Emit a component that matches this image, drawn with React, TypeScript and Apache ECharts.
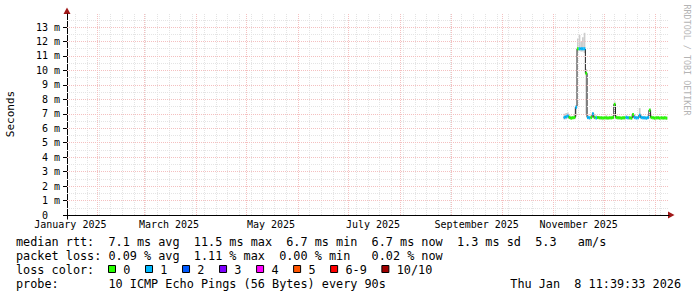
import React, { useEffect, useRef } from 'react';
import * as echarts from 'echarts';

const DAY = 86400000;
const X_START = Date.UTC(2025, 0, 14);
const X_END = Date.UTC(2026, 0, 9);
const DATA_START = Date.UTC(2025, 10, 7);

const MONTH_NAMES = ['January', 'February', 'March', 'April', 'May', 'June', 'July', 'August', 'September', 'October', 'November', 'December'];
const X_LABEL_DATES = ['2025-01-16', '2025-03-16', '2025-05-16', '2025-07-16', '2025-09-16', '2025-11-16'];
const MONTH_STARTS = ['2025-02-01', '2025-03-01', '2025-04-01', '2025-05-01', '2025-06-01', '2025-07-01', '2025-08-01', '2025-09-01', '2025-10-01', '2025-11-01', '2025-12-01', '2026-01-01'];
const FIRST_SUNDAY = '2025-01-19';
const Y_TICKS = [0, 1, 2, 3, 4, 5, 6, 7, 8, 9, 10, 11, 12, 13];

// median rtt per day (ms), from 2025-11-07
const medianMs = [
  6.75, 6.8, 6.85, 6.75, 6.7, 6.72, 6.75, 7.45, 11.5, 11.5,
  11.5, 11.5, 11.5, 9.8, 6.75, 6.72, 6.75, 7.0, 6.75, 6.72,
  6.75, 6.72, 6.72, 6.7, 6.72, 6.72, 6.7, 6.72, 6.72, 6.75,
  7.65, 6.75, 6.72, 6.72, 6.7, 6.72, 6.72, 6.75, 6.72, 6.72,
  6.7, 6.95, 6.75, 6.72, 6.72, 6.9, 6.75, 6.72, 6.72, 6.7,
  6.75, 7.25, 6.75, 6.72, 6.7, 6.72, 6.72, 6.7, 6.72, 6.7,
  6.72, 6.7,
];
// lost pings out of 10
const lossCount = [
  1, 1, 1, 0, 0, 0, 0, 1, 0, 1,
  1, 1, 1, 0, 1, 1, 0, 1, 0, 1,
  0, 0, 0, 0, 0, 0, 0, 0, 0, 0,
  0, 0, 0, 0, 0, 0, 0, 1, 1, 0,
  0, 0, 1, 1, 1, 1, 1, 1, 1, 1,
  1, 0, 0, 0, 0, 0, 0, 0, 0, 0,
  0, 0,
];
const smokeLoMs = [
  6.6, 6.62, 6.65, 6.62, 6.6, 6.62, 6.62, 6.8, 11.3, 11.35,
  11.3, 11.3, 11.2, 7.0, 6.62, 6.6, 6.62, 6.7, 6.62, 6.6,
  6.62, 6.62, 6.6, 6.6, 6.62, 6.6, 6.6, 6.62, 6.62, 6.62,
  6.8, 6.62, 6.6, 6.62, 6.6, 6.6, 6.62, 6.62, 6.6, 6.62,
  6.6, 6.7, 6.62, 6.6, 6.62, 6.7, 6.62, 6.6, 6.62, 6.6,
  6.62, 6.75, 6.62, 6.6, 6.6, 6.62, 6.6, 6.6, 6.62, 6.6,
  6.6, 6.6,
];
const smokeHiMs = [
  7.0, 7.05, 7.1, 6.9, 6.85, 6.85, 6.95, 7.6, 12.2, 12.45,
  12.0, 12.3, 12.6, 10.1, 6.95, 6.85, 6.9, 7.1, 6.85, 6.9,
  6.85, 6.85, 6.85, 6.8, 6.85, 6.9, 6.8, 6.85, 6.85, 6.9,
  7.85, 6.9, 6.85, 6.85, 6.8, 6.85, 6.85, 6.9, 6.85, 6.85,
  6.8, 7.05, 6.9, 6.85, 6.85, 7.4, 6.9, 6.85, 6.85, 6.8,
  6.9, 7.4, 6.9, 6.85, 6.8, 6.85, 6.85, 6.8, 6.85, 6.8,
  6.85, 6.8,
];

const LOSS_COLORS = ['#26ff00', '#00b8ff', '#0059ff', '#7e00ff', '#ff00ff', '#ff5500', '#ff0000', '#a10000', '#a10000', '#a10000', '#a10000'];
const LEGEND_LOSS_LABELS = ['0', '1', '2', '3', '4', '5', '6-9', '10/10'];
const LEGEND_LOSS_COLORS = ['#26ff00', '#00b8ff', '#0059ff', '#7e00ff', '#ff00ff', '#ff5500', '#ff0000', '#a10000'];

const LINE_RTT = 'median rtt:  7.1 ms avg  11.5 ms max  6.7 ms min  6.7 ms now  1.3 ms sd  5.3   am/s';
const LINE_LOSS = 'packet loss: 0.09 % avg  1.11 % max  0.00 % min   0.02 % now';
const LINE_COLOR = 'loss color:';
const LINE_PROBE = 'probe:       10 ICMP Echo Pings (56 Bytes) every 90s';
const DATE_STAMP = 'Thu Jan  8 11:39:33 2026';
const Y_TITLE = 'Seconds';
const WATERMARK = 'RRDTOOL / TOBI OETIKER';

const MONO = 'DejaVu Sans Mono';
const nb = (s: string) => s.replace(/ /g, '\u00a0');
const ts = (s: string) => Date.parse(s + 'T00:00:00Z');

export default function App() {
  const ref = useRef<HTMLDivElement>(null);
  useEffect(() => {
    if (!ref.current) return;
    const chart = echarts.init(ref.current, undefined, { renderer: 'svg' });

    const dayTimes = medianMs.map((_, i) => DATA_START + i * DAY);
    const intervals = dayTimes.map((t, i) => [t, i + 1 < dayTimes.length ? dayTimes[i + 1] : t + DAY]);

    const weeks: number[] = [];
    for (let t = ts(FIRST_SUNDAY); t < X_END; t += 7 * DAY) weeks.push(t);
    const minorY: number[] = [];
    for (let v = 0.5; v < 13.9; v += 1) minorY.push(v);
    const majorY = Y_TICKS.filter((v) => v > 0);

    const bandData = intervals.map((iv, i) => [iv[0], iv[1], medianMs[i], lossCount[i]]);
    const smokeData = intervals.map((iv, i) => [iv[0], iv[1], smokeLoMs[i], smokeHiMs[i]]);

    const graphics: any[] = [];
    const text = (x: number, y: number, s: string, extra: any = {}) =>
      graphics.push({
        type: 'text', x, y, silent: true, ...extra,
        style: { text: nb(s), fontFamily: MONO, fontSize: 11.82, fill: '#000', align: 'left', verticalAlign: 'middle', ...(extra.style || {}) },
      });
    text(16, 241.5, LINE_RTT);
    text(16, 255.5, LINE_LOSS);
    text(16, 269.5, LINE_COLOR);
    text(16, 283.5, LINE_PROBE);
    text(681, 283.5, DATE_STAMP, { style: { align: 'right' } });
    let bx = 108.5;
    LEGEND_LOSS_LABELS.forEach((lab, i) => {
      graphics.push({
        type: 'rect', silent: true,
        shape: { x: bx, y: 265.5, width: 7, height: 7 },
        style: { fill: LEGEND_LOSS_COLORS[i], stroke: '#000', lineWidth: 1 },
      });
      text(bx + 14.8, 269.5, lab);
      bx = bx + 14.8 + lab.length * 7.12 + 15.1;
    });
    graphics.push({
      type: 'text', x: 10, y: 114, rotation: Math.PI / 2, silent: true,
      style: { text: Y_TITLE, fontFamily: MONO, fontSize: 11, fill: '#000', align: 'center', verticalAlign: 'middle' },
    });
    graphics.push({
      type: 'text', x: 687, y: 60, rotation: -Math.PI / 2, silent: true,
      style: { text: nb(WATERMARK), fontFamily: MONO, fontSize: 8.4, fill: '#b4b4b4', align: 'center', verticalAlign: 'middle' },
    });
    graphics.push({ type: 'polygon', silent: true, shape: { points: [[668, 211.5], [668, 218.5], [674.5, 215]] }, style: { fill: '#a01818' } });
    graphics.push({ type: 'polygon', silent: true, shape: { points: [[63.5, 14], [70.5, 14], [67, 7.5]] }, style: { fill: '#a01818' } });
    graphics.push({ type: 'line', silent: true, shape: { x1: 67.5, y1: 215, x2: 67.5, y2: 219.5 }, style: { stroke: '#000', lineWidth: 1 } });

    const gridLine = (color: string, xs: number[], ys: number[], z: number) => ({
      type: 'line', data: [], z, silent: true,
      markLine: {
        silent: true, symbol: ['none', 'none'], label: { show: false },
        lineStyle: { color, type: [1, 1], width: 1 },
        emphasis: { disabled: true },
        data: [...xs.map((t) => ({ xAxis: t })), ...ys.map((v) => ({ yAxis: v }))],
      },
    });

    chart.setOption({
      animation: false,
      backgroundColor: '#ffffff',
      grid: { left: 67, top: 14, width: 602, height: 201, containLabel: false },
      xAxis: {
        type: 'value', min: X_START, max: X_END,
        axisLine: { show: true, lineStyle: { color: '#000', width: 1 } },
        axisTick: { show: false },
        splitLine: { show: false },
        axisLabel: {
          customValues: X_LABEL_DATES.map(ts),
          formatter: (v: number) => { const d = new Date(v); return MONTH_NAMES[d.getUTCMonth()] + '\u00a0' + d.getUTCFullYear(); },
          fontFamily: MONO, fontSize: 10, color: '#000', margin: 4,
        },
      },
      yAxis: {
        type: 'value', min: 0, max: 13.9, interval: 1,
        axisLine: { show: true, lineStyle: { color: '#000', width: 1 } },
        axisTick: { show: true, length: 4, customValues: Y_TICKS, lineStyle: { color: '#000' } },
        splitLine: { show: false },
        axisLabel: {
          customValues: Y_TICKS,
          formatter: (v: number) => (Number.isInteger(v) ? (v === 0 ? '0\u00a0\u00a0' : v + '\u00a0m') : ''),
          fontFamily: MONO, fontSize: 10, color: '#000', margin: 7,
        },
      },
      graphic: graphics,
      series: [
        gridLine('#e4e4e4', weeks, minorY, 1),
        gridLine('#f4c0c0', MONTH_STARTS.map(ts), majorY, 2),
        {
          type: 'custom', z: 3, silent: true,
          data: smokeData,
          encode: { x: [0, 1], y: [2, 3] },
          renderItem: (params: any, api: any) => {
            const p1 = api.coord([api.value(0), api.value(3)]);
            const p2 = api.coord([api.value(1), api.value(2)]);
            return { type: 'rect', shape: { x: p1[0], y: p1[1], width: p2[0] - p1[0], height: p2[1] - p1[1] }, style: { fill: '#cccccc' } };
          },
        },
        {
          type: 'line', z: 4, silent: true, step: 'end', symbol: 'none',
          data: dayTimes.map((t, i) => [t, medianMs[i]]),
          lineStyle: { color: '#202020', width: 1 },
        },
        {
          type: 'custom', z: 5, silent: true,
          data: bandData,
          encode: { x: [0, 1], y: 2 },
          renderItem: (params: any, api: any) => {
            const p1 = api.coord([api.value(0), api.value(2)]);
            const p2 = api.coord([api.value(1), api.value(2)]);
            return { type: 'rect', shape: { x: p1[0], y: p1[1] - 1.5, width: p2[0] - p1[0], height: 3 }, style: { fill: LOSS_COLORS[api.value(3)] } };
          },
        },
      ],
    });
    return () => chart.dispose();
  }, []);
  return <div ref={ref} style={{ position: 'absolute', left: 0, top: 0, width: 697, height: 297 }} />;
}
